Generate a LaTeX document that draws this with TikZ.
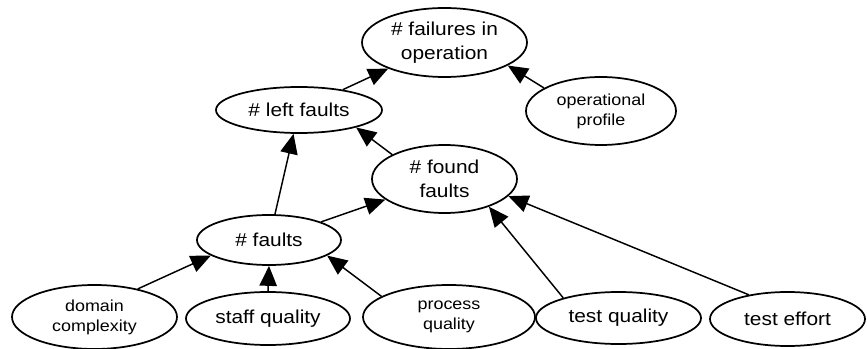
\documentclass[tikz,border=0pt]{standalone}
\usepackage{fontspec}
\setmainfont{Liberation Sans}[FakeStretch=1.12]
\usetikzlibrary{shapes.geometric, arrows.meta}
\newcommand{\nodefont}{\fontsize{14pt}{17.6pt}\selectfont}
\newcommand{\smallnodefont}{\fontsize{12pt}{15pt}\selectfont}
\tikzset{
  bubble/.style={ellipse, draw=black, line width=1.3pt, inner sep=0pt,
                 align=center, font=\nodefont},
  smallbubble/.style={bubble, font=\smallnodefont},
  arrow/.style={-{Triangle[length=15pt, width=13pt]}, line width=1.1pt},
}
\begin{document}
\begin{tikzpicture}[x=0.75pt, y=-0.75pt]
  \useasboundingbox (0,0) rectangle (867,349);

  % top levels
  \node[bubble, minimum width=123.75pt, minimum height=51.75pt] (fail) at (444.5,42.5) {\# failures in\\operation};
  \node[smallbubble, minimum width=112.5pt, minimum height=51pt] (profile) at (601,111) {operational\\profile};
  \node[bubble, minimum width=124.5pt, minimum height=34.5pt] (left) at (299,110) {\# left faults};
  \node[bubble, minimum width=108.75pt, minimum height=51pt] (found) at (444.5,179) {\# found\\faults};
  \node[bubble, minimum width=108pt, minimum height=37.5pt] (faults) at (269,240) {\# faults};

  % influencing factors
  \node[smallbubble, minimum width=123.75pt, minimum height=48pt] (domain) at (94.5,317) {domain\\complexity};
  \node[bubble, minimum width=123pt, minimum height=39.75pt] (staff) at (268,318.5) {staff quality};
  \node[smallbubble, minimum width=129pt, minimum height=48pt] (process) at (449,317) {process\\quality};
  \node[bubble, minimum width=123.75pt, minimum height=39pt] (testq) at (618.5,318) {test quality};
  \node[bubble, minimum width=116.25pt, minimum height=40.5pt] (teste) at (787.5,319) {test effort};

  \draw[arrow] (left)        -- (fail);
  \draw[arrow] (profile.158) -- (fail.340);
  \draw[arrow] (found.155)   -- (left.-17);
  \draw[arrow] (faults)      -- (left);
  \draw[arrow] (faults)      -- (found);
  \draw[arrow] (domain.33)   -- (faults.195);
  \draw[arrow] (staff.north) -- (faults.south);
  \draw[arrow] (process.163) -- (faults.-15);
  \draw[arrow] (testq.160)   -- (found.-32);
  \draw[arrow] (teste.148)   -- (found.-15);
\end{tikzpicture}
\end{document}
